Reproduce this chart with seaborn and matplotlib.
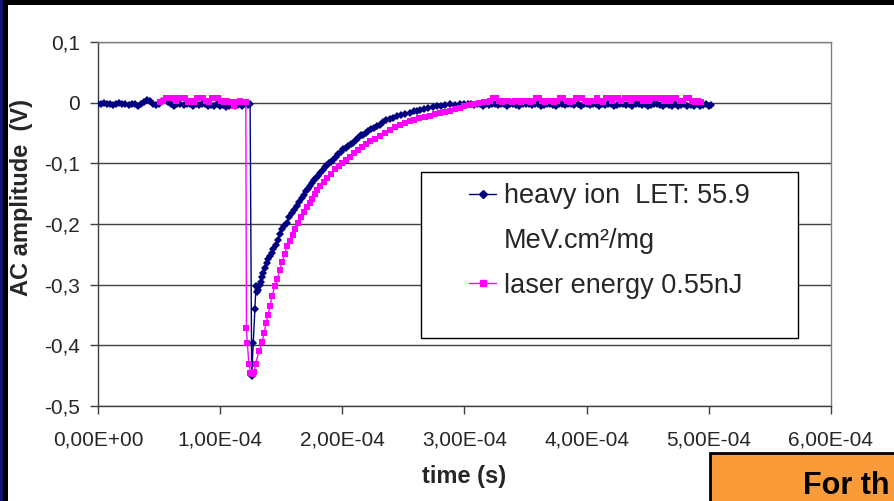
import matplotlib
matplotlib.use("Agg")
import matplotlib.pyplot as plt
from matplotlib.patches import Rectangle
from matplotlib.lines import Line2D
from matplotlib.ticker import FuncFormatter
import numpy as np
import pandas as pd
import seaborn as sns

# heavy ion trace: time in microseconds, amplitude in V
heavy_t_us = [
    # baseline before the strike
    0, 2.5, 5, 7.5, 10, 12.5, 15, 17.5, 20, 22.5,
    25, 27.5, 30, 32.5, 35, 37.5, 40, 42.5, 45, 47.5,
    50, 52.5, 55, 57.5, 60, 62.5, 65, 67.5, 70, 72.5,
    75, 77.5, 80, 82.5, 85, 87.5, 90, 92.5, 95, 97.5,
    100, 102.5, 105, 107.5, 110, 112.5, 115, 117.5, 120, 122.5, 124.5,
    # transient
    125.8, 127.1, 128.5, 129.3, 130.2, 131.2, 132.2, 133.1, 134.2, 135.3,
    136.6, 138.0, 139.4, 140.8, 142.1, 143.5, 145.5, 147.6, 149.0, 150.3,
    152.4, 154.4, 156.5, 158.5, 160.5, 162.6, 164.7, 166.7, 168.5, 170.2,
    171.9, 173.5, 175.2, 176.9, 178.6, 180.3, 182.0, 183.8, 185.5, 187.2,
    189.0, 190.8, 192.6, 194.6, 196.6, 198.7, 200.7, 202.7, 204.8, 206.9,
    208.9, 211.0, 213.0, 215.0, 217.1, 219.2, 221.2, 223.6, 226.0, 228.4,
    230.8, 233.4, 236.0, 238.7, 241.4, 244.8, 248.2, 251.7, 255.3, 258.4,
    261.0, 263.5, 267.0, 270.5, 274.0, 277.2, 280.8, 284.4, 288.0, 292.0,
    296.0, 300.0,
    # baseline after recovery
    302.5, 305, 307.5, 310, 312.5, 315, 317.5, 320, 322.5, 325,
    327.5, 330, 332.5, 335, 337.5, 340, 342.5, 345, 347.5, 350,
    352.5, 355, 357.5, 360, 362.5, 365, 367.5, 370, 372.5, 375,
    377.5, 380, 382.5, 385, 387.5, 390, 392.5, 395, 397.5, 400,
    402.5, 405, 407.5, 410, 412.5, 415, 417.5, 420, 422.5, 425,
    427.5, 430, 432.5, 435, 437.5, 440, 442.5, 445, 447.5, 450,
    452.5, 455, 457.5, 460, 462.5, 465, 467.5, 470, 472.5, 475,
    477.5, 480, 482.5, 485, 487.5, 490, 492.5, 495, 497.5, 500, 502,
]
heavy_v = [
    -0.002, -0.003, -0.001, -0.003, -0.002, -0.004, -0.002, -0.001, -0.003, -0.002,
    -0.004, -0.003, -0.002, -0.005, -0.003, 0.001, 0.004, 0.002, -0.002, -0.004,
    -0.002, 0.003, 0.005, 0.001, -0.003, -0.006, -0.003, -0.002, -0.004, -0.003,
    -0.002, -0.005, -0.003, -0.004, -0.002, -0.003, -0.005, -0.004, -0.006, -0.003,
    -0.005, -0.004, -0.007, -0.005, -0.003, -0.006, -0.004, -0.005, -0.003, -0.004, -0.002,
    -0.450, -0.396, -0.340, -0.303, -0.312, -0.308, -0.300, -0.296, -0.288, -0.281,
    -0.272, -0.264, -0.258, -0.253, -0.247, -0.242, -0.234, -0.226, -0.216, -0.209,
    -0.204, -0.198, -0.189, -0.182, -0.177, -0.171, -0.163, -0.157, -0.152, -0.146,
    -0.142, -0.138, -0.133, -0.128, -0.124, -0.121, -0.116, -0.111, -0.106, -0.102,
    -0.099, -0.097, -0.094, -0.089, -0.085, -0.081, -0.077, -0.074, -0.071, -0.068,
    -0.066, -0.062, -0.058, -0.054, -0.053, -0.050, -0.047, -0.044, -0.041, -0.038,
    -0.036, -0.032, -0.029, -0.027, -0.025, -0.022, -0.020, -0.018, -0.017, -0.014,
    -0.013, -0.012, -0.010, -0.009, -0.007, -0.006, -0.005, -0.004, -0.003, -0.004,
    -0.002, -0.003,
    -0.003, -0.002, -0.004, -0.003, -0.002, -0.005, -0.003, -0.004, -0.002, -0.003,
    -0.004, -0.002, -0.003, -0.005, -0.003, -0.002, -0.004, -0.006, -0.003, -0.002,
    -0.003, -0.004, -0.002, -0.003, -0.005, -0.004, -0.002, -0.003, -0.004, -0.006,
    -0.003, -0.002, -0.004, -0.003, -0.002, -0.004, -0.003, -0.005, -0.002, -0.003,
    -0.004, -0.003, -0.002, -0.005, -0.003, -0.004, -0.002, -0.003, -0.006, -0.004,
    -0.003, -0.002, -0.004, -0.003, -0.005, -0.002, -0.003, -0.004, -0.003, -0.006,
    -0.004, -0.003, -0.002, -0.004, -0.006, -0.003, -0.004, -0.005, -0.003, -0.006,
    -0.004, -0.003, -0.005, -0.004, -0.006, -0.003, -0.005, -0.004, -0.003, -0.005, -0.004,
]

# laser trace
laser_t_us = [
    51, 53.5, 56, 58.5, 61, 63.5, 66, 68.5, 71, 73.5,
    76, 78.5, 81, 83.5, 86, 88.5, 91, 93.5, 96, 98.5,
    101, 103.5, 106, 108.5, 111, 113.5, 116, 118.5, 121,
    121.5, 122.2, 123.5, 124.8, 126.5, 128.0, 129.0, 131.8, 134.2, 136.0,
    137.5, 139.2, 140.8, 142.5, 144.8, 146.8, 148.9, 150.8, 152.7, 154.7,
    157.0, 159.3, 161.5, 163.7, 166.2, 168.7, 171.1, 173.5, 175.5, 177.6,
    179.6, 181.7, 184.7, 187.8, 190.9, 193.9, 197.0, 200.0, 203.1, 206.2,
    209.5, 212.8, 216.0, 219.3, 222.6, 226.5, 230.8, 235.0, 239.0, 243.0,
    247.0, 251.0, 255.0, 259.0, 263.0, 268.0, 272.0, 276.0, 280.0, 284.0,
    288.0, 292.0, 296.0, 300.0, 304.0, 308.0, 312.0, 316.0,
    318.5, 321, 323.5, 326, 328.5, 331, 333.5, 336, 338.5, 341,
    343.5, 346, 348.5, 351, 353.5, 356, 358.5, 361, 363.5, 366,
    368.5, 371, 373.5, 376, 378.5, 381, 383.5, 386, 388.5, 391,
    393.5, 396, 398.5, 401, 403.5, 406, 408.5, 411, 413.5, 416,
    418.5, 421, 423.5, 426, 428.5, 431, 433.5, 436, 438.5, 441,
    443.5, 446, 448.5, 451, 453.5, 456, 458.5, 461, 463.5, 466,
    468.5, 471, 473.5, 476, 478.5, 481, 483.5, 486, 488.5, 491, 493.5,
]
laser_v = [
    0.001, 0.002, 0.008, 0.008, 0.008, 0.002, 0.008, 0.008, 0.008, 0.001,
    0.002, 0.001, 0.008, 0.008, 0.008, 0.002, 0.001, 0.008, 0.008, 0.008,
    0.002, 0.001, 0.002, 0.001, -0.005, 0.001, 0.002, 0.001, 0.001,
    -0.371, -0.396, -0.430, -0.445, -0.447, -0.444, -0.430, -0.410, -0.395, -0.380,
    -0.363, -0.350, -0.335, -0.318, -0.303, -0.290, -0.275, -0.262, -0.250, -0.237,
    -0.228, -0.218, -0.208, -0.198, -0.189, -0.181, -0.172, -0.165, -0.158, -0.151,
    -0.144, -0.138, -0.131, -0.124, -0.117, -0.110, -0.104, -0.099, -0.094, -0.089,
    -0.083, -0.078, -0.073, -0.068, -0.064, -0.060, -0.055, -0.050, -0.045, -0.040,
    -0.036, -0.033, -0.030, -0.028, -0.026, -0.024, -0.022, -0.019, -0.017, -0.015,
    -0.013, -0.011, -0.009, -0.006, -0.004, -0.003, -0.001, 0.001,
    0.001, 0.002, 0.007, 0.008, 0.002, 0.001, 0.002, 0.003, 0.001, 0.002,
    0.002, 0.001, 0.003, 0.002, 0.001, 0.002, 0.008, 0.008, 0.002, 0.001,
    0.002, 0.003, 0.001, 0.002, 0.008, 0.008, 0.002, 0.001, 0.002, 0.008,
    0.008, 0.007, 0.002, 0.001, 0.003, 0.002, 0.007, 0.002, 0.001, 0.008,
    0.008, 0.002, 0.007, 0.008, 0.003, 0.007, 0.008, 0.002, 0.007, 0.008,
    0.008, 0.003, 0.007, 0.002, 0.008, 0.007, 0.008, 0.008, 0.003, 0.007,
    0.002, 0.007, 0.008, 0.003, 0.002, 0.008, 0.008, 0.002, 0.001, 0.002, 0.001,
]

heavy_label = "heavy ion  LET: 55.9"
heavy_label_2 = "MeV.cm²/mg"
laser_label = "laser energy 0.55nJ"
y_ticks = [0.1, 0.0, -0.1, -0.2, -0.3, -0.4, -0.5]
x_ticks = [0, 1e-4, 2e-4, 3e-4, 4e-4, 5e-4, 6e-4]

NAVY = "#000080"
MAGENTA = "#FF00FF"

sns.set_style("white")
plt.rcParams["font.family"] = ["Liberation Sans", "DejaVu Sans"]

heavy = pd.DataFrame({"t": np.array(heavy_t_us) * 1e-6, "v": heavy_v})
laser = pd.DataFrame({"t": np.array(laser_t_us) * 1e-6, "v": laser_v})

W, H = 895, 501
fig = plt.figure(figsize=(W / 100, H / 100), dpi=100)
ax = fig.add_axes([98 / W, 1 - 406 / H, (831 - 98) / W, (406 - 42) / H])

sns.lineplot(data=heavy, x="t", y="v", ax=ax, color=NAVY, marker="D",
             markersize=4.5, markeredgewidth=0, linewidth=1,
             sort=False, estimator=None, zorder=3)
sns.lineplot(data=laser, x="t", y="v", ax=ax, color=MAGENTA, marker="s",
             markersize=5, markeredgewidth=0, linewidth=1,
             sort=False, estimator=None, zorder=3.1)

ax.set_xlim(0, 6e-4)
ax.set_ylim(-0.5, 0.1)
ax.set_xticks(x_ticks)
ax.set_yticks(y_ticks)
ax.xaxis.set_major_formatter(FuncFormatter(lambda v, p: f"{v:.2E}".replace(".", ",")))
ax.yaxis.set_major_formatter(
    FuncFormatter(lambda v, p: "0" if abs(v) < 1e-9 else f"{v:.1f}".replace(".", ",")))
ax.tick_params(axis="x", direction="out", length=6, width=1, color="#404040",
               labelsize=15, pad=12, bottom=True)
ax.tick_params(axis="y", direction="out", length=6, width=1, color="#404040",
               labelsize=15, pad=7, left=True)

ax.grid(axis="y", color="#404040", linewidth=1)
ax.grid(axis="x", visible=False)
for side in ["top", "right"]:
    ax.spines[side].set_color("#808080")
for side in ["left", "bottom"]:
    ax.spines[side].set_color("#404040")
for s in ax.spines.values():
    s.set_linewidth(1)

ax.set_xlabel("time (s)", fontsize=17, fontweight="bold")
ax.set_ylabel("AC amplitude  (V)", fontsize=17, fontweight="bold")
ax.xaxis.set_label_coords(0.5, -0.195)
ax.xaxis.label.set_va("center")
ax.yaxis.set_label_coords((22 - 98) / (831 - 98), (406 - 197) / (406 - 42))
ax.yaxis.label.set_va("center")

# legend box with empty space at the bottom, as in the original
ax.add_patch(Rectangle((421 / W, 1 - 338 / H), (798 - 421) / W, (338 - 172) / H,
                       transform=fig.transFigure, facecolor="white",
                       edgecolor="black", linewidth=1, zorder=4, clip_on=False))
handles = [
    Line2D([0], [0], color=NAVY, marker="D", markersize=4, lw=1),
    Line2D([], [], linestyle="none"),
    Line2D([0], [0], color=MAGENTA, marker="s", markersize=4, lw=1),
]
leg = ax.legend(handles, [heavy_label, heavy_label_2, laser_label],
                loc="upper left", bbox_to_anchor=(469 / W, 1 - 183 / H),
                bbox_transform=fig.transFigure, frameon=False, borderpad=0,
                borderaxespad=0, handlelength=1.0, handletextpad=0.3,
                labelspacing=0.7, fontsize=19.5, numpoints=1)
leg.set_zorder(5)

# slide decorations around the chart
fig.patches.append(Rectangle((0, 1 - 5 / H), 1, 5 / H, transform=fig.transFigure,
                             facecolor="black", edgecolor="none"))
fig.patches.append(Rectangle((0, 0), 3 / W, 1, transform=fig.transFigure,
                             facecolor="#14146E", edgecolor="none"))
fig.patches.append(Rectangle((3 / W, 0), 5 / W, 1, transform=fig.transFigure,
                             facecolor="black", edgecolor="none"))
fig.patches.append(Rectangle((710 / W, -0.02), 0.3, 1 - 453 / H + 0.02,
                             transform=fig.transFigure, facecolor="#F99B38",
                             edgecolor="black", linewidth=2))
fig.text(803 / W, 1 - 494 / H, "For th", fontsize=22, fontweight="bold",
         color="black", va="baseline", ha="left")

fig.savefig("out.png", dpi=100)
